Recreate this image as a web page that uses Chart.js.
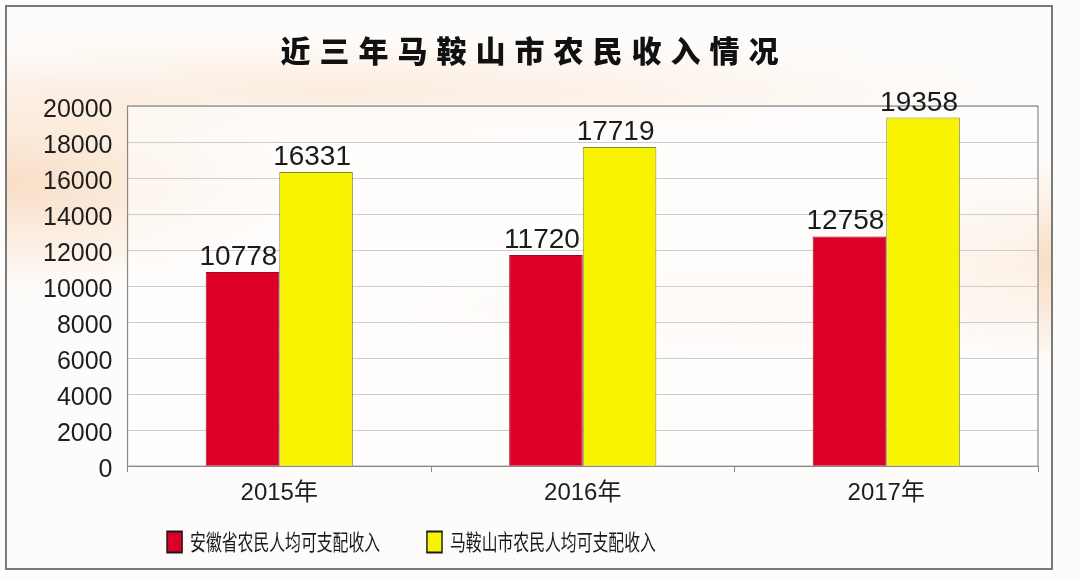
<!DOCTYPE html>
<html>
<head>
<meta charset="utf-8">
<script src="https://cdn.jsdelivr.net/npm/chart.js@4.4.1/dist/chart.umd.min.js"></script>
<style>
html,body{margin:0;padding:0;background:#fdfcfb;}
#wrap{position:relative;width:1080px;height:580px;overflow:hidden;background:#fdfcfb;}
#frame{position:absolute;left:5px;top:5px;width:1048px;height:565px;box-sizing:border-box;border:2px solid #7a7a7a;
  background:
    radial-gradient(ellipse 320px 110px at 0px 175px, rgba(247,212,180,0.75), rgba(247,212,180,0) 100%),
    radial-gradient(ellipse 260px 100px at 1048px 255px, rgba(247,212,180,0.75), rgba(247,212,180,0) 100%),
    radial-gradient(ellipse 650px 55px at 330px 85px, rgba(249,222,200,0.55), rgba(249,222,200,0) 100%),
    radial-gradient(ellipse 500px 60px at 760px 300px, rgba(249,225,205,0.35), rgba(249,225,205,0) 100%),
    #fefcfa;}
canvas{position:absolute;left:0;top:0;}
</style>
</head>
<body>
<div id="wrap">
  <div id="frame"></div>
  <canvas id="c" width="1080" height="580"></canvas>
</div>
<script>
const titleText = '近三年马鞍山市农民收入情况';
const categories = ['2015年', '2016年', '2017年'];
const seriesNames = ['安徽省农民人均可支配收入', '马鞍山市农民人均可支配收入'];
const anhuiValues = [10778, 11720, 12758];
const maanshanValues = [16331, 17719, 19358];
const yTickValues = [0, 2000, 4000, 6000, 8000, 10000, 12000, 14000, 16000, 18000, 20000];

Chart.defaults.font.family = '"Liberation Sans", "Noto Sans CJK SC", Arial, sans-serif';
Chart.defaults.color = '#1e1e1e';

const plotFrame = {
  id: 'plotFrame',
  beforeDraw(chart) {
    const {ctx, chartArea: a} = chart;
    ctx.save();
    ctx.fillStyle = 'rgba(255,255,255,0.55)';
    ctx.fillRect(a.left, a.top, a.width, a.height);
    ctx.restore();
  },
  beforeDatasetsDraw(chart) {
    const {ctx, chartArea: a} = chart;
    ctx.save();
    ctx.strokeStyle = '#8a8a8a';
    ctx.lineWidth = 1.2;
    ctx.strokeRect(a.left, a.top, a.width, a.height);
    ctx.restore();
  }
};

const valueLabels = {
  id: 'valueLabels',
  afterDatasetsDraw(chart) {
    const ctx = chart.ctx;
    ctx.save();
    ctx.font = '28px "Liberation Sans", Arial, sans-serif';
    ctx.fillStyle = '#1b1b1b';
    ctx.textAlign = 'center';
    ctx.textBaseline = 'alphabetic';
    chart.data.datasets.forEach((ds, i) => {
      chart.getDatasetMeta(i).data.forEach((bar, j) => {
        ctx.fillText(String(ds.data[j]), bar.x - 4, bar.y - 7);
      });
    });
    ctx.restore();
  }
};

const textTweaks = {
  id: 'textTweaks',
  beforeDraw(chart) {
    const tb = chart.titleBlock;
    if (tb && !tb._spaced) {
      tb._spaced = true;
      const orig = tb.draw;
      tb.draw = function (...args) {
        const c = this.ctx;
        c.save();
        c.letterSpacing = '9px';
        c.translate(1, 0);
        orig.apply(this, args);
        c.restore();
      };
    }
    const lg = chart.legend;
    if (lg && !lg._condensed) {
      lg._condensed = true;
      const orig = lg.draw;
      lg.draw = function (...args) {
        const c = this.ctx;
        const hb = this.legendHitBoxes[0];
        const s = 0.72;
        const savedBottom = this.bottom;
        this.bottom = this.top + 200;
        c.save();
        c.translate(167 - s * hb.left, 531 - hb.top);
        c.scale(s, 1);
        orig.apply(this, args);
        c.restore();
        this.bottom = savedBottom;
      };
    }
  }
};

new Chart(document.getElementById('c'), {
  type: 'bar',
  data: {
    labels: categories,
    datasets: [
      {
        label: seriesNames[0],
        data: anhuiValues,
        backgroundColor: '#dd0026',
        borderColor: '#9a0a22',
        borderWidth: 1,
        categoryPercentage: 0.485,
        barPercentage: 1.0
      },
      {
        label: seriesNames[1],
        data: maanshanValues,
        backgroundColor: '#f8f400',
        borderColor: '#85853a',
        borderWidth: 1,
        categoryPercentage: 0.485,
        barPercentage: 1.0
      }
    ]
  },
  options: {
    responsive: false,
    animation: false,
    layout: { padding: { top: 33, left: 28, right: 42, bottom: 0 } },
    plugins: {
      title: {
        display: true,
        text: titleText,
        color: '#111',
        font: { family: '"Noto Sans CJK SC", sans-serif', size: 30, weight: '900' },
        padding: { top: 0, bottom: 37 }
      },
      legend: {
        display: true,
        position: 'bottom',
        align: 'start',
        maxHeight: 65,
        labels: {
          color: '#1a1a1a',
          font: { family: '"Noto Sans CJK SC", sans-serif', size: 22 },
          boxWidth: 21,
          boxHeight: 21,
          padding: 65,
          generateLabels(chart) {
            const items = Chart.defaults.plugins.legend.labels.generateLabels(chart);
            items.forEach(it => { it.strokeStyle = '#1a1a1a'; it.lineWidth = 2; });
            return items;
          }
        }
      },
      tooltip: { enabled: false }
    },
    scales: {
      x: {
        grid: {
          display: true,
          offset: true,
          drawOnChartArea: false,
          drawTicks: true,
          tickLength: 6,
          color: '#8a8a8a'
        },
        border: { display: true, color: '#8a8a8a', width: 1 },
        ticks: {
          color: '#1e1e1e',
          padding: 7,
          font: { size: 24 }
        }
      },
      y: {
        min: 0,
        max: 20000,
        afterBuildTicks(scale) {
          scale.ticks = yTickValues.map(v => ({ value: v }));
        },
        grid: {
          color: '#cdcdcd',
          lineWidth: 1,
          drawTicks: false
        },
        border: { display: true, color: '#8a8a8a', width: 1 },
        ticks: {
          color: '#1e1e1e',
          padding: 15,
          labelOffset: 4,
          font: { size: 25 },
          callback: (v) => String(v)
        }
      }
    }
  },
  plugins: [plotFrame, valueLabels, textTweaks]
});
</script>
</body>
</html>
